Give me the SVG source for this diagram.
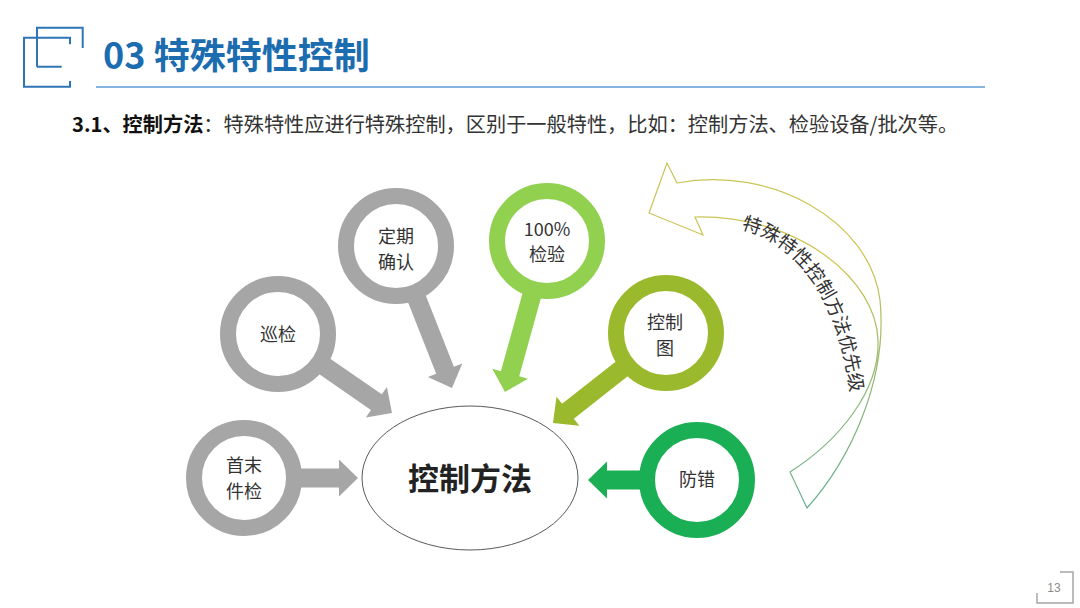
<svg xmlns="http://www.w3.org/2000/svg" width="1080" height="608" viewBox="0 0 1080 608">
<defs>
<style>
.cjk{font-family:"Noto Sans CJK SC","Noto Sans",sans-serif;}
.lbl{font-size:18px;fill:#333333;text-anchor:middle;}
.gray{fill:#a6a6a6;}
.lg{fill:#92d050;}
.ol{fill:#9bb92c;}
.gr{fill:#1aaf54;}
.ring{fill:#ffffff;stroke-width:16;}
.icon{fill:none;stroke:#2e75b6;stroke-width:2;}
</style>
<linearGradient id="bandGrad" gradientUnits="userSpaceOnUse" x1="680" y1="170" x2="820" y2="510">
<stop offset="0" stop-color="#c9c45a"/>
<stop offset="0.4" stop-color="#cfc44a"/>
<stop offset="1" stop-color="#5fae92"/>
</linearGradient>
<path id="arcText" d="M741,229 C797,243 844,300 853,418"/>
</defs>
<rect width="1080" height="608" fill="#ffffff"/>

<g id="header">
<path class="icon" d="M37,66.7 V27.7 H82.7 V48 M37,66.7 H61.7"/>
<path class="icon" d="M70,44.3 V37.7 H24 V86.7 H70 V81"/>
<line x1="96" y1="87" x2="985" y2="87" stroke="#5b9bd5" stroke-width="1.5"/>
<text x="103" y="69" class="cjk" font-size="36" font-weight="bold" fill="#1c6cb0">03 特殊特性控制</text>
<text x="72" y="131.5" class="cjk" font-size="20.2" fill="#333333"><tspan font-weight="bold" fill="#111111">3.1、控制方法</tspan>：特殊特性应进行特殊控制，区别于一般特性，比如：控制方法、检验设备/批次等。</text>
</g>

<g id="priority-arrow">
<path d="M649,213 L667,163 L677,183 C770,165 870,220 880,300 C888,380 850,460 807,508 L790,472 C840,440 880,390 878,340 C876,280 800,215 695,217 L703,235 Z" fill="none" stroke="url(#bandGrad)" stroke-width="1.2"/>
<text class="cjk" font-size="19" fill="#333333"><textPath href="#arcText" startOffset="0">特殊特性控制方法优先级</textPath></text>
</g>

<g id="connectors">
<polygon class="gray" transform="translate(392,413) rotate(34.7)" points="-91,-9.5 -19,-9.5 -19,-18.5 0,0 -19,18.5 -19,9.5 -91,9.5"/>
<polygon class="gray" transform="translate(452,388) rotate(68.5)" points="-105,-9.5 -19,-9.5 -19,-18.5 0,0 -19,18.5 -19,9.5 -105,9.5"/>
<polygon class="lg" transform="translate(505,392) rotate(105.5)" points="-109,-9.5 -19,-9.5 -19,-18.5 0,0 -19,18.5 -19,9.5 -109,9.5"/>
<polygon class="ol" transform="translate(553,423) rotate(141.8)" points="-96,-9.5 -19,-9.5 -19,-18.5 0,0 -19,18.5 -19,9.5 -96,9.5"/>
<polygon class="gray" transform="translate(358,478) rotate(0)" points="-66,-9.5 -19,-9.5 -19,-18.5 0,0 -19,18.5 -19,9.5 -66,9.5"/>
<polygon class="gr" transform="translate(588,480) rotate(180)" points="-61,-9.5 -19,-9.5 -19,-18.5 0,0 -19,18.5 -19,9.5 -61,9.5"/>
</g>

<g id="node-center">
<ellipse cx="470" cy="478" rx="108" ry="72" fill="#ffffff" stroke="#595959" stroke-width="1"/>
<text x="470" y="490" class="cjk" font-size="31" font-weight="bold" fill="#222222" text-anchor="middle">控制方法</text>
</g>

<g id="node-xunjian">
<circle class="ring" cx="278" cy="334" r="50" stroke="#a6a6a6"/>
<text x="278" y="341" class="cjk lbl">巡检</text>
</g>

<g id="node-dingqi">
<circle class="ring" cx="396" cy="246" r="50" stroke="#a6a6a6"/>
<text x="396" y="243" class="cjk lbl">定期</text>
<text x="396" y="269" class="cjk lbl">确认</text>
</g>

<g id="node-100">
<circle class="ring" cx="547" cy="241" r="50" stroke="#92d050"/>
<text x="547" y="236" class="cjk lbl">100%</text>
<text x="547" y="261" class="cjk lbl">检验</text>
</g>

<g id="node-kongzhitu">
<circle class="ring" cx="666" cy="333" r="50" stroke="#9bb92c"/>
<text x="665" y="329" class="cjk lbl">控制</text>
<text x="665" y="355" class="cjk lbl">图</text>
</g>

<g id="node-shoumo">
<circle class="ring" cx="244" cy="478" r="50" stroke="#a6a6a6"/>
<text x="244" y="472" class="cjk lbl">首末</text>
<text x="244" y="498" class="cjk lbl">件检</text>
</g>

<g id="node-fangcuo">
<circle class="ring" cx="697" cy="480" r="50" stroke="#1aaf54"/>
<text x="697" y="486" class="cjk lbl">防错</text>
</g>

<g id="page-number">
<path d="M1060,572 H1073 V603 H1037 V593" fill="none" stroke="#a6a6a6" stroke-width="1.5"/>
<text x="1054" y="592" font-family="Liberation Sans, sans-serif" font-size="12" fill="#8c8c8c" text-anchor="middle">13</text>
</g>
</svg>
